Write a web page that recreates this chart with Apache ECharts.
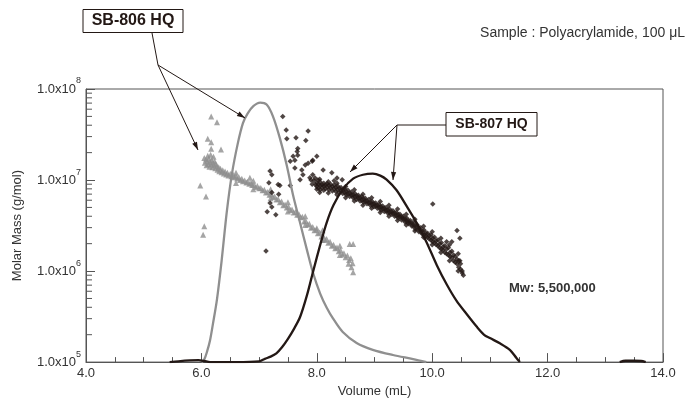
<!DOCTYPE html>
<html><head><meta charset="utf-8">
<script src="https://cdn.jsdelivr.net/npm/echarts@6/dist/echarts.min.js"></script>
<style>html,body{margin:0;padding:0;background:#fff}#c{width:697px;height:403px}</style>
</head><body><div id="c"></div>
<script>
// ---- data ----
const xTicks = [4, 6, 8, 10, 12, 14];
const yDecades = [1e5, 1e6, 1e7, 1e8];
const yMinorTicks = [2e5,3e5,4e5,5e5,6e5,7e5,8e5,9e5,2e6,3e6,4e6,5e6,6e6,7e6,8e6,9e6,2e7,3e7,4e7,5e7,6e7,7e7,8e7,9e7];

// chromatogram traces (volume mL, relative signal 0..1)
const curve806 = [[6.0,0],[6.05,0.01],[6.1,0.04],[6.15,0.08],[6.2,0.14],[6.27,0.23],[6.35,0.37],[6.44,0.55],[6.53,0.69],[6.63,0.80],[6.72,0.875],[6.8,0.91],[6.9,0.937],[7.02,0.95],[7.13,0.943],[7.24,0.90],[7.36,0.82],[7.48,0.72],[7.59,0.61],[7.71,0.51],[7.83,0.41],[7.93,0.33],[8.06,0.25],[8.17,0.2],[8.28,0.16],[8.45,0.11],[8.69,0.07],[8.97,0.045],[9.32,0.026],[9.67,0.011],[9.9,0]];
const curve807 = [[5.45,0],[5.6,0.003],[5.8,0.006],[5.95,0.007],[6.05,0.004],[6.15,0],[6.6,0],[7.0,0.003],[7.1,0.012],[7.2,0.02],[7.3,0.032],[7.4,0.055],[7.5,0.085],[7.6,0.12],[7.71,0.165],[7.83,0.245],[7.94,0.335],[8.06,0.43],[8.17,0.51],[8.29,0.575],[8.46,0.635],[8.63,0.672],[8.8,0.686],[8.97,0.69],[9.1,0.683],[9.21,0.668],[9.38,0.63],[9.56,0.57],[9.73,0.51],[9.9,0.44],[10.08,0.355],[10.25,0.285],[10.42,0.225],[10.6,0.175],[10.77,0.13],[10.9,0.10],[11.0,0.088],[11.18,0.068],[11.35,0.044],[11.46,0.015],[11.52,0],[11.53,null],[13.2,null],[13.25,0],[13.35,0.005],[13.5,0.005],[13.62,0.004],[13.7,0]];

// molar mass (volume mL, g/mol)
const mass806 = [[6.05,1.75e7],[6.06,1.55e7],[6.08,1.68e7],[6.09,1.45e7],[6.10,1.62e7],[6.11,1.85e7],[6.12,1.5e7],[6.13,1.72e7],[6.14,1.4e7],[6.15,1.58e7],[6.16,1.9e7],[6.17,1.48e7],[6.18,1.66e7],[6.19,1.38e7],[6.20,1.55e7],[6.21,1.8e7],[6.22,1.45e7],[6.23,1.6e7],[6.24,1.35e7],[6.25,1.5e7],[6.27,1.42e7],[6.28,1.3e7],[6.30,1.38e7],[6.31,1.25e7],[6.33,1.33e7],[6.35,1.22e7],[6.37,1.28e7],[6.39,1.18e7],[6.41,1.24e7],[6.43,1.15e7],[6.45,1.2e7],[6.47,1.12e7],[6.50,1.17e7],[6.52,1.1e7],[6.55,1.14e7],[6.57,1.07e7],[6.60,1.1e7],[6.62,1.04e7],[6.65,1.07e7],[6.67,1.0e7],[6.70,1.03e7],[6.72,9.7e6],[6.75,9.9e6],[6.78,9.4e6],[6.80,9.6e6],[6.83,9.1e6],[6.84,1.06e7],[6.86,9.3e6],[6.88,8.8e6],[6.91,8.9e6],[6.94,8.4e6],[6.97,8.6e6],[7.00,8.1e6],[7.03,8.2e6],[7.06,7.7e6],[7.09,7.8e6],[7.12,7.3e6],[7.15,7.4e6],[7.18,6.9e6],[7.21,7.0e6],[7.24,6.5e6],[7.27,6.6e6],[7.30,6.1e6],[7.33,6.2e6],[7.36,5.7e6],[7.39,5.8e6],[7.42,5.3e6],[7.45,5.4e6],[7.48,5.0e6],[7.51,5.1e6],[7.54,4.7e6],[7.57,4.75e6],[7.60,4.4e6],[7.63,4.45e6],[7.66,4.15e6],[7.69,4.2e6],[7.72,3.9e6],[7.75,3.95e6],[7.78,3.5e6],[7.81,3.55e6],[7.84,3.25e6],[7.87,3.3e6],[7.90,3.0e6],[7.93,3.05e6],[7.96,2.8e6],[7.99,2.85e6],[8.00,2.95e6],[8.02,2.6e6],[8.05,2.65e6],[8.08,2.4e6],[8.11,2.45e6],[8.14,2.2e6],[8.17,2.25e6],[8.20,2.05e6],[8.23,2.1e6],[8.26,1.9e6],[8.29,1.95e6],[8.32,1.78e6],[8.35,1.82e6],[8.38,1.65e6],[8.41,1.7e6],[8.44,1.52e6],[8.47,1.57e6],[8.50,1.42e6],[8.53,1.48e6],[8.55,1.2e6],[8.56,1.32e6],[8.57,1.98e6],[8.59,1.38e6],[8.60,1.1e6],[8.62,1.22e6],[8.63,1.98e6],[8.63,9.7e5],
  [6.6,1.2e7],[6.6,9.3e6],[6.9,9.8e6],[6.9,7.9e6],[7.2,7.9e6],[7.2,6.3e6],[7.5,5.7e6],[7.5,4.5e6],[7.8,4.0e6],[7.8,3.2e6],[8.1,2.8e6],[8.1,2.2e6],[8.4,1.9e6],[8.4,1.5e6],
  [6.17,5.0e7],[6.27,4.3e7],[6.11,2.85e7],[6.17,2.6e7],[6.17,2.2e7],[6.34,2.17e7],[5.98,8.7e6],[6.08,6.6e6],[6.05,3.1e6],[6.03,2.5e6]];
const mass807 = [[7.41,5.0e7],[7.47,3.55e7],[7.48,2.84e7],[7.64,2.91e7],[7.85,3.46e7],[7.81,2.71e7],[7.67,2.22e7],[7.66,2.06e7],[7.59,1.82e7],[7.62,1.65e7],[7.67,1.87e7],[7.54,1.61e7],[8.00,1.82e7],[7.93,1.65e7],[7.92,1.61e7],[7.85,1.53e7],[7.80,1.46e7],[7.74,1.29e7],[7.62,1.36e7],[8.11,1.29e7],[8.26,1.2e7],[8.44,1.01e7],[7.93,1.14e7],[7.88,1.06e7],[7.76,1.14e7],[7.71,1.01e7],[7.54,8.69e6],[7.36,8.69e6],[7.19,1.26e7],[7.22,1.14e7],[7.17,9.36e6],[7.22,7.31e6],[7.33,8.91e6],[7.34,6.96e6],[7.19,5.58e6],[7.22,5.05e6],[7.14,4.47e6],[7.29,4.15e6],[7.12,1.66e6],
  [7.95,9.8e6],[7.98,8.9e6],[7.90,1.0e7],[7.97,1.05e7],[8.02,1.0e7],[7.92,9.0e6],[8.35,1.05e7],[8.30,9.8e6],
  [8.00,9.3e6],[8.00,8.5e6],[8.00,7.9e6],[8.03,9.0e6],[8.03,8.2e6],[8.06,9.5e6],[8.06,8.7e6],[8.06,7.8e6],[8.09,8.9e6],[8.09,8.3e6],[8.12,9.2e6],[8.12,8.6e6],[8.12,7.7e6],[8.15,8.8e6],[8.15,8.0e6],[8.18,9.1e6],[8.18,8.4e6],[8.21,8.7e6],[8.21,7.8e6],[8.24,9.0e6],[8.24,8.2e6],[8.27,8.5e6],[8.27,7.6e6],[8.30,8.8e6],[8.30,8.0e6],[8.33,8.3e6],[8.33,7.5e6],[8.36,8.6e6],[8.36,7.8e6],[8.39,8.1e6],[8.39,7.3e6],[8.42,8.3e6],[8.42,7.6e6],[8.45,7.8e6],[8.45,7.1e6],[8.48,8.0e6],[8.48,7.3e6],[8.51,7.5e6],[8.51,6.9e6],[8.54,7.7e6],[8.54,7.0e6],[8.57,7.2e6],[8.57,6.6e6],[8.60,7.4e6],[8.60,6.8e6],[8.63,6.9e6],[8.63,6.4e6],[8.66,7.1e6],[8.66,6.5e6],[8.69,6.7e6],[8.69,6.1e6],[8.72,6.8e6],[8.72,6.3e6],[8.75,6.4e6],[8.75,5.9e6],[8.78,6.6e6],[8.78,6.0e6],[8.81,6.2e6],[8.81,5.7e6],[8.84,6.3e6],[8.84,5.8e6],[8.87,5.9e6],[8.87,5.5e6],[8.90,6.1e6],[8.90,5.6e6],[8.93,5.7e6],[8.93,5.3e6],[8.96,5.8e6],[8.96,5.4e6],[8.99,5.5e6],[8.99,5.1e6],[9.02,5.6e6],[9.02,5.2e6],[9.05,5.3e6],[9.05,4.9e6],[9.08,5.4e6],[9.08,5.0e6],[9.11,5.1e6],[9.11,4.7e6],[9.14,5.2e6],[9.14,4.8e6],[9.17,4.9e6],[9.17,4.5e6],[9.20,5.0e6],[9.20,4.6e6],[9.23,4.7e6],[9.23,4.35e6],[9.26,4.8e6],[9.26,4.4e6],[9.29,4.5e6],[9.29,4.2e6],[9.32,4.6e6],[9.32,4.25e6],[9.35,4.35e6],[9.35,4.0e6],[9.38,4.4e6],[9.38,4.05e6],[9.41,4.15e6],[9.41,3.85e6],[9.44,4.2e6],[9.44,3.9e6],[9.47,3.95e6],[9.47,3.65e6],[9.50,4.0e6],[9.50,3.7e6],[9.53,3.75e6],[9.53,3.45e6],[9.56,3.8e6],[9.56,3.5e6],[9.59,3.55e6],[9.59,3.3e6],[9.62,3.6e6],[9.62,3.3e6],[9.65,3.35e6],[9.65,3.1e6],[9.68,3.4e6],[9.68,3.1e6],[9.71,3.15e6],[9.71,2.9e6],[9.74,3.2e6],[9.74,2.9e6],[9.77,2.95e6],[9.77,2.7e6],[9.80,3.0e6],[9.80,2.7e6],[9.83,2.75e6],[9.83,2.55e6],[9.86,2.8e6],[9.86,2.5e6],[9.89,2.6e6],[9.89,2.4e6],[9.92,2.6e6],[9.92,2.35e6],[9.95,2.45e6],[9.95,2.25e6],[9.98,2.5e6],[9.98,2.2e6],[10.01,2.3e6],[10.01,2.1e6],[10.04,2.35e6],[10.04,2.05e6],[10.07,2.15e6],[10.07,1.95e6],[10.10,2.2e6],[10.10,1.9e6],[10.13,2.0e6],[10.13,1.8e6],[10.16,2.05e6],[10.16,1.75e6],[10.19,1.85e6],[10.19,1.7e6],[10.22,1.9e6],[10.22,1.6e6],[10.25,1.75e6],[10.25,1.55e6],[10.28,1.8e6],[10.28,1.5e6],[10.31,1.6e6],[10.31,1.45e6],[10.34,1.65e6],[10.34,1.4e6],[10.37,1.5e6],[10.37,1.3e6],[10.40,1.45e6],[10.40,1.25e6],[10.43,1.35e6],[10.43,1.2e6],[10.46,1.3e6],[10.46,1.1e6],[10.49,1.2e6],[10.49,1.05e6],[10.52,1.0e6],[10.52,9.5e5],[10.54,9.0e5],
  [8.05,1.02e7],[8.05,7.3e6],[8.2,9.6e6],[8.2,7.2e6],[8.35,9.2e6],[8.35,6.9e6],[8.5,8.5e6],[8.5,6.4e6],[8.65,7.8e6],[8.65,5.9e6],[8.8,7.0e6],[8.8,5.3e6],[8.95,6.4e6],[8.95,4.9e6],[9.1,5.8e6],[9.1,4.4e6],[9.25,5.3e6],[9.25,4.0e6],[9.4,4.8e6],[9.4,3.6e6],[9.55,4.2e6],[9.55,3.2e6],[9.7,3.7e6],[9.7,2.75e6],[9.85,3.1e6],[9.85,2.35e6],[10.0,2.7e6],[10.0,1.95e6],[10.15,2.3e6],[10.15,1.6e6],[10.3,1.95e6],[10.3,1.3e6],[10.45,1.55e6],[10.45,1.0e6],
  [10.01,5.44e6],[10.43,2.79e6],[10.48,2.3e6],[10.34,2.1e6],[10.25,2.1e6],[10.48,1.3e6]];

// ---- chart ----
const FONT = '"Liberation Sans", Arial, Helvetica, sans-serif';
const INK = '#231815';
const AX = '#555555';
const chart = echarts.init(document.getElementById('c'), null, {renderer: 'canvas'});

function arrowHead(x1, y1, x2, y2) {
  const a = Math.atan2(y2 - y1, x2 - x1), L = 8, W = 2.6;
  const c = Math.cos(a), s = Math.sin(a);
  return [[x2, y2], [x2 - L * c + W * s, y2 - L * s - W * c], [x2 - L * c - W * s, y2 - L * s + W * c]];
}
function arrow(x1, y1, x2, y2) {
  return [
    {type: 'line', shape: {x1, y1, x2, y2}, style: {stroke: INK, lineWidth: 1}, z: 100},
    {type: 'polygon', shape: {points: arrowHead(x1, y1, x2, y2)}, style: {fill: INK}, z: 100}
  ];
}

const graphics = [
  {type: 'rect', shape: {x: 83, y: 9.5, width: 100, height: 23}, style: {fill: '#fff', stroke: INK, lineWidth: 1}, z: 100},
  {type: 'text', x: 133, y: 21, style: {text: 'SB-806 HQ', font: 'bold 16px ' + FONT, fill: INK, textAlign: 'center', textVerticalAlign: 'middle'}, z: 101},
  {type: 'line', shape: {x1: 152, y1: 33, x2: 158, y2: 65}, style: {stroke: INK, lineWidth: 1}, z: 100},
  ...arrow(158, 65, 198, 150),
  ...arrow(158, 65, 245, 118),
  {type: 'rect', shape: {x: 446, y: 112.5, width: 91, height: 23.5}, style: {fill: '#fff', stroke: INK, lineWidth: 1}, z: 100},
  {type: 'text', x: 491.5, y: 124.5, style: {text: 'SB-807 HQ', font: 'bold 14px ' + FONT, fill: INK, textAlign: 'center', textVerticalAlign: 'middle'}, z: 101},
  {type: 'line', shape: {x1: 446, y1: 125, x2: 397, y2: 125}, style: {stroke: INK, lineWidth: 1}, z: 100},
  ...arrow(397, 125, 350, 172),
  ...arrow(397, 125, 393, 180),
  {type: 'text', x: 685, y: 33, style: {text: 'Sample : Polyacrylamide, 100 μL', font: '14px ' + FONT, fill: '#333', textAlign: 'right', textVerticalAlign: 'middle'}, z: 100},
  {type: 'text', x: 509, y: 288, style: {text: 'Mw: 5,500,000', font: 'bold 13px ' + FONT, fill: '#333', textAlign: 'left', textVerticalAlign: 'middle'}, z: 100}
];

const option = {
  animation: false,
  backgroundColor: '#fff',
  textStyle: {fontFamily: FONT},
  grid: {left: 86, right: 34, top: 89, bottom: 34, show: true, borderColor: AX, borderWidth: 1, backgroundColor: 'transparent'},
  xAxis: {
    type: 'value', min: xTicks[0], max: xTicks[xTicks.length - 1], interval: 2,
    name: 'Volume (mL)', nameLocation: 'middle', nameGap: 21,
    nameTextStyle: {fontSize: 13, color: '#333', fontFamily: FONT},
    axisLine: {show: true, lineStyle: {color: AX, width: 1}},
    axisTick: {show: true, inside: true, length: 9, lineStyle: {color: AX}},
    minorTick: {show: true, splitNumber: 4, length: 5, lineStyle: {color: AX}},
    splitLine: {show: false}, minorSplitLine: {show: false},
    axisLabel: {fontSize: 13, color: '#333', margin: 5, fontFamily: FONT, formatter: v => v.toFixed(1)}
  },
  yAxis: [{
    type: 'log', logBase: 10, min: yDecades[0], max: yDecades[yDecades.length - 1],
    name: 'Molar Mass (g/mol)', nameLocation: 'middle', nameGap: 62, nameRotate: 90,
    nameTextStyle: {fontSize: 13, color: '#333', fontFamily: FONT},
    axisLine: {show: true, lineStyle: {color: AX, width: 1}},
    axisTick: {show: true, inside: true, length: 9, lineStyle: {color: AX}},
    splitLine: {show: false},
    axisLabel: {
      margin: 5, color: '#333', fontFamily: FONT, showMinLabel: true, showMaxLabel: true,
      formatter: v => '{m|1.0x10}{s|' + Math.round(Math.log10(v)) + '}',
      rich: {
        m: {fontSize: 13, color: '#333', fontFamily: FONT, verticalAlign: 'middle', lineHeight: 25},
        s: {fontSize: 9, color: '#333', fontFamily: FONT, verticalAlign: 'top'}
      }
    }
  }, {
    type: 'value', min: 0, max: 1, show: false
  }],
  series: [
    {
      type: 'custom', name: 'yMinor', xAxisIndex: 0, yAxisIndex: 0, silent: true, clip: false,
      data: yMinorTicks.map(v => [xTicks[0], v]),
      renderItem: (params, api) => {
        const p = api.coord([api.value(0), api.value(1)]);
        return {type: 'line', shape: {x1: p[0], y1: p[1], x2: p[0] + 6, y2: p[1]}, style: {stroke: AX, lineWidth: 1}};
      }, z: 1
    },
    {type: 'scatter', name: 'SB-806 HQ Mw', data: mass806, yAxisIndex: 0, symbol: 'triangle', symbolSize: 6, itemStyle: {color: '#8f8f8f'}, z: 2},
    {type: 'scatter', name: 'SB-807 HQ Mw', data: mass807, yAxisIndex: 0, symbol: 'diamond', symbolSize: 5.5, itemStyle: {color: INK}, z: 3},
    {type: 'line', name: 'SB-806 HQ', data: curve806, yAxisIndex: 1, smooth: 0.3, showSymbol: false, lineStyle: {color: '#8f8f8f', width: 2.3}, z: 4},
    {type: 'line', name: 'SB-807 HQ', data: curve807, yAxisIndex: 1, smooth: 0.3, showSymbol: false, connectNulls: false, lineStyle: {color: INK, width: 2.3}, z: 5}
  ],
  graphic: graphics
};
chart.setOption(option);
</script>
</body></html>
